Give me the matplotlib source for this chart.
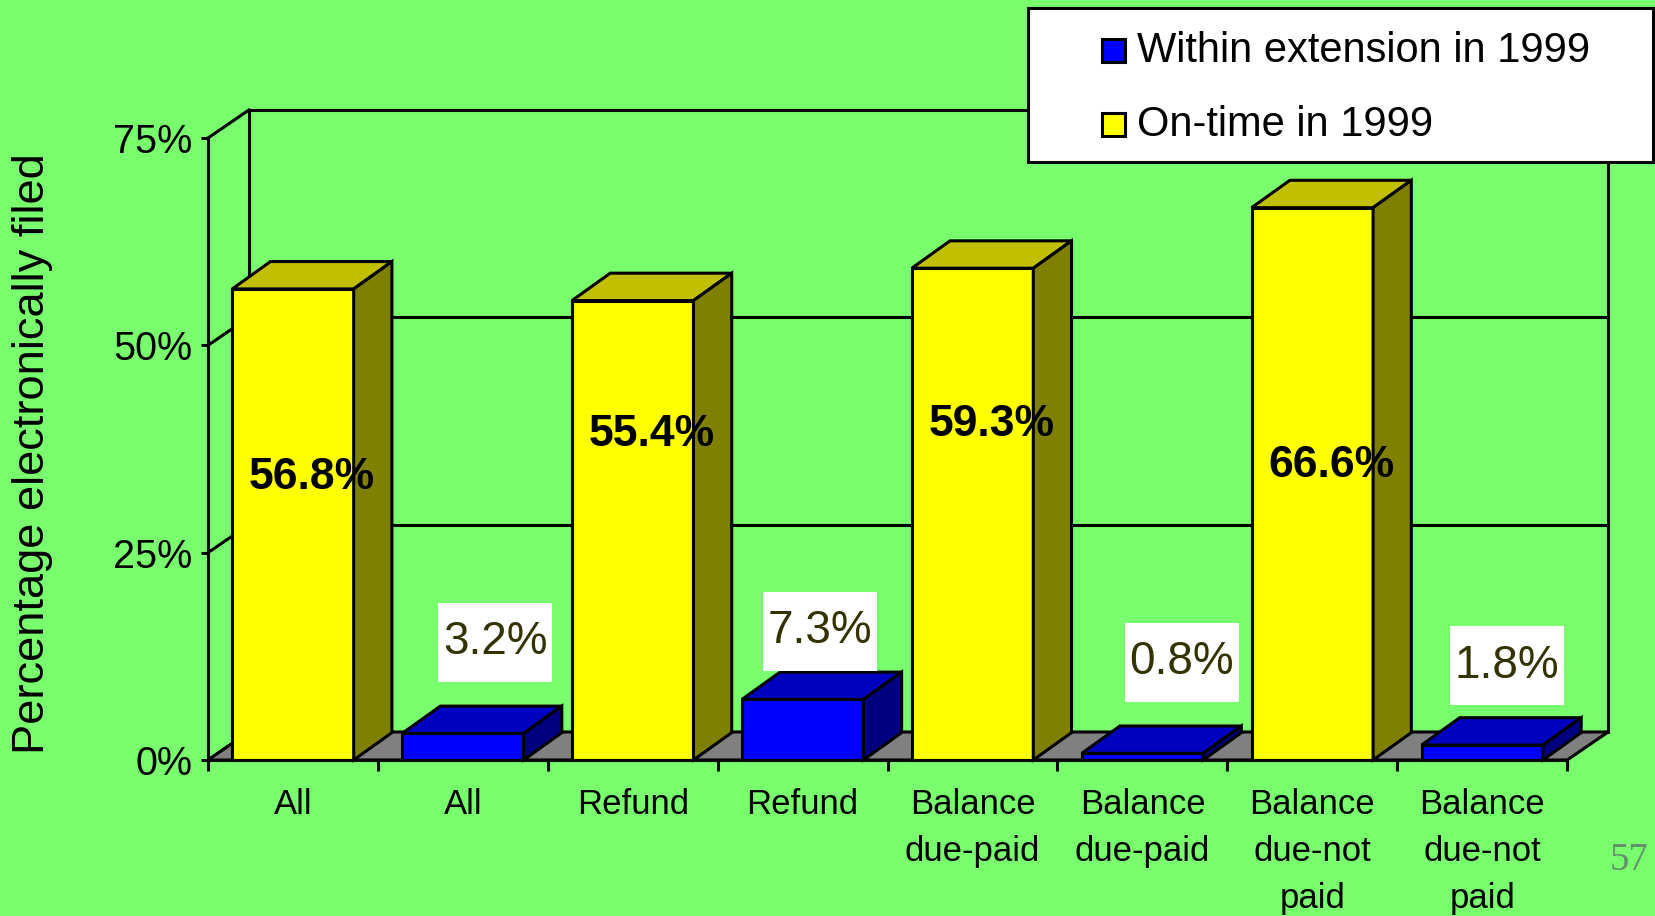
import numpy as np
import matplotlib
matplotlib.use("Agg")
import matplotlib.pyplot as plt
from matplotlib.patches import Polygon, Rectangle

plt.rcParams['font.family'] = ['Liberation Sans', 'DejaVu Sans']

# ---- data ----
groups = ["All", "Refund", "Balance\ndue-paid", "Balance\ndue-not\npaid"]
series_names = ["Within extension in 1999", "On-time in 1999"]
on_time = [56.8, 55.4, 59.3, 66.6]
extension = [3.2, 7.3, 0.8, 1.8]
yticks = [0, 25, 50, 75]
ytick_labels = ["0%", "25%", "50%", "75%"]

# where the slide put the value labels (y in %, x offset inside the slot)
on_time_label_y = [34.1, 39.3, 40.5, 35.5]
extension_label_y = [14.2, 15.5, 11.8, 11.35]
extension_label_x = [0.69, 0.60, 0.73, 0.646]

# ---- look ----
BG = '#79FF6E'
LW = 2.2
W, H = 1656, 916
YEL = ('#FFFF00', '#C0C000', '#808000')   # front, top, side
BLU = ('#0000FF', '#0000C0', '#000080')
DX, DY = 0.241, 3.38      # depth of floor / walls (x in slots, y in %)
BDX, BDY = 0.225, 3.3     # depth of the bars
BW = 0.715                # bar width in slots
YMAX = 75

fig = plt.figure(figsize=(W / 100, H / 100), dpi=100, facecolor=BG)
ax = fig.add_axes([208 / W, 1 - 760 / H, 8 * 169.9 / W, 622 / H])
ax.set_xlim(0, 8)
ax.set_ylim(0, YMAX)
ax.patch.set_visible(False)
for s in ['top', 'right']:
    ax.spines[s].set_visible(False)
for s in ['left', 'bottom']:
    ax.spines[s].set_linewidth(LW)
    ax.spines[s].set_zorder(6)

# left wall + back wall
for v in yticks:
    ax.plot([0, DX], [v, v + DY], color='k', lw=LW, zorder=1, clip_on=False)
for v in yticks[1:]:
    ax.plot([DX, 8 + DX], [v + DY, v + DY], color='k', lw=LW, zorder=1, clip_on=False)
ax.plot([DX, DX], [DY, YMAX + DY], color='k', lw=LW, zorder=1, clip_on=False)
ax.plot([8 + DX, 8 + DX], [DY, YMAX + DY], color='k', lw=LW, zorder=1, clip_on=False)

# floor
ax.add_patch(Polygon([(0, 0), (8, 0), (8 + DX, DY), (DX, DY)], closed=True,
                     fc='#808080', ec='k', lw=LW, zorder=2, clip_on=False))

# bars
n = len(groups)
slots_on = np.arange(n) * 2
slots_ext = slots_on + 1


def draw_bars(slots, vals, cols):
    x0 = slots + (1 - BW) / 2
    ax.bar(x0, vals, width=BW, align='edge', color=cols[0], edgecolor='k',
           lw=LW, zorder=4, clip_on=False)
    for a, v in zip(x0, vals):
        b = a + BW
        top = [(a, v), (a + BDX, v + BDY), (b + BDX, v + BDY), (b, v)]
        side = [(b, 0), (b + BDX, BDY), (b + BDX, v + BDY), (b, v)]
        ax.add_patch(Polygon(top, closed=True, fc=cols[1], ec='k', lw=LW,
                             joinstyle='miter', zorder=4, clip_on=False))
        ax.add_patch(Polygon(side, closed=True, fc=cols[2], ec='k', lw=LW,
                             joinstyle='miter', zorder=4, clip_on=False))


draw_bars(slots_on, on_time, YEL)
draw_bars(slots_ext, extension, BLU)

# value labels
for s, v, ly in zip(slots_on, on_time, on_time_label_y):
    ax.text(s + 0.5 + 0.11, ly, f"{v}%", ha='center', va='center',
            fontsize=32, fontweight='bold', zorder=8)
# white label boxes: 114 x 79 px on the slide
box_w = 114 / 169.9
box_h = 79 / (622 / YMAX)
for s, v, lx, ly in zip(slots_ext, extension, extension_label_x, extension_label_y):
    ax.add_patch(Rectangle((s + lx - box_w / 2, ly - box_h / 2), box_w, box_h,
                           fc='white', ec='none', zorder=7, clip_on=False))
    ax.text(s + lx, ly, f"{v}%", ha='center', va='center',
            fontsize=33, color='#333300', zorder=8)

# axes ticks
ax.set_yticks(yticks, ytick_labels, fontsize=28.5)
ax.tick_params(axis='y', length=5.3, width=LW, pad=6)
ax.set_xticks(np.arange(2 * n) + 0.5, [g for g in groups for _ in (0, 1)],
              fontsize=25, linespacing=1.54)
ax.set_xticks(np.arange(2 * n + 1), minor=True)
ax.tick_params(axis='x', which='major', length=0, pad=20)
ax.tick_params(axis='x', which='minor', length=8, width=LW)

fig.text(33 / W, 1 - 454 / H, "Percentage electronically filed", rotation=90,
         fontsize=32.6, ha='center', va='center')

# legend box (drawn by hand to sit where the slide had it)
fig.patches.append(Rectangle((1028 / W, 1 - 162 / H), (1653 - 1028) / W, 154 / H,
                             transform=fig.transFigure, fc='white', ec='k', lw=LW, zorder=10))
for name, col, yc in zip(series_names, [BLU[0], YEL[0]], [50.5, 124.5]):
    fig.patches.append(Rectangle((1102 / W, 1 - (yc + 11.5) / H), 23 / W, 23 / H,
                                 transform=fig.transFigure, fc=col, ec='k', lw=LW, zorder=11))
    fig.text(1137 / W, 1 - yc / H, name, fontsize=30, ha='left', va='center', zorder=12)

fig.text(1629 / W, 1 - 860 / H, "57", family='Liberation Serif',
         fontsize=28, color='#62906a', ha='center', va='center')

fig.savefig("out.png", dpi=100, facecolor=BG)
